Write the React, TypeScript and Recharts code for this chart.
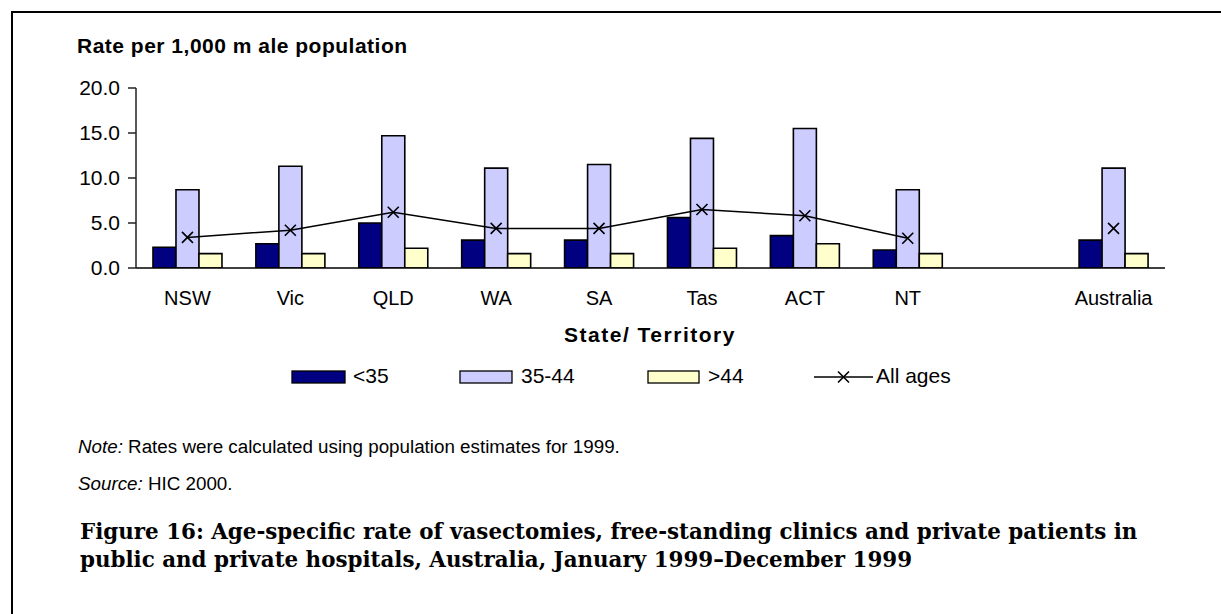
import React from 'react';
import { ComposedChart, Bar, Line, XAxis, YAxis, Legend } from 'recharts';

const categories = ['NSW', 'Vic', 'QLD', 'WA', 'SA', 'Tas', 'ACT', 'NT', '', 'Australia'];
const under35 = [2.3, 2.7, 5.0, 3.1, 3.1, 5.6, 3.6, 2.0, null, 3.1];
const age35to44 = [8.7, 11.3, 14.7, 11.1, 11.5, 14.4, 15.5, 8.7, null, 11.1];
const over44 = [1.6, 1.6, 2.2, 1.6, 1.6, 2.2, 2.7, 1.6, null, 1.6];
const allAges = [3.4, 4.2, 6.2, 4.4, 4.4, 6.5, 5.8, 3.3, null, 4.4];
const yTicks = [0, 5, 10, 15, 20];

const data = categories.map((name, i) => ({
  name,
  u35: under35[i],
  a3544: age35to44[i],
  o44: over44[i],
  all: allAges[i],
}));

const SANS = '"Liberation Sans", Arial, sans-serif';
const SERIF = '"DejaVu Serif", serif';

const XDot = (props: any) => {
  const { cx, cy, value } = props;
  if (value == null || cx == null || cy == null) return <g />;
  const s = 5.5;
  return (
    <path
      d={`M${cx - s},${cy - s}L${cx + s},${cy + s}M${cx - s},${cy + s}L${cx + s},${cy - s}`}
      stroke="#000"
      strokeWidth={1.6}
      fill="none"
    />
  );
};

const LegendContent = () => (
  <svg width={1221} height={30} style={{ display: 'block' }}>
    <rect x={292} y={9} width={53} height={12} fill="#000080" stroke="#000" strokeWidth={1.3} />
    <text x={353} y={21} fontSize={21} fontFamily={SANS} fill="#000">{'<35'}</text>
    <rect x={460} y={9} width={52} height={12} fill="#CCCCFF" stroke="#000" strokeWidth={1.3} />
    <text x={521} y={21} fontSize={21} fontFamily={SANS} fill="#000">35-44</text>
    <rect x={648} y={9} width={51} height={12} fill="#FFFFCC" stroke="#000" strokeWidth={1.3} />
    <text x={708} y={21} fontSize={21} fontFamily={SANS} fill="#000">{'>44'}</text>
    <line x1={814} y1={15} x2={873} y2={15} stroke="#000" strokeWidth={1.5} />
    <path d="M838,9.5L849,20.5M838,20.5L849,9.5" stroke="#000" strokeWidth={1.6} />
    <text x={876} y={21} fontSize={21} fontFamily={SANS} fill="#000">All ages</text>
  </svg>
);

export default function App() {
  return (
    <div style={{ position: 'absolute', left: 0, top: 0, width: 1221, height: 614, background: '#fff', overflow: 'hidden', fontFamily: SANS }}>
      <div style={{ position: 'absolute', left: 11, top: 11, width: 1300, height: 700, borderTop: '2px solid #000', borderLeft: '2px solid #000' }} />
      <div style={{ position: 'absolute', left: 77, top: 33, fontSize: 21, fontWeight: 'bold', letterSpacing: 0.5, whiteSpace: 'pre', lineHeight: '25px' }}>
        Rate per 1,000 m ale population
      </div>
      <div style={{ position: 'absolute', left: 0, top: 0 }}>
        <ComposedChart
          width={1221}
          height={400}
          data={data}
          margin={{ top: 88, right: 56, left: 76, bottom: 52 }}
          barCategoryGap="16.5%"
          barGap={0}
        >
          <XAxis
            dataKey="name"
            tickLine={false}
            axisLine={{ stroke: '#000', strokeWidth: 1.5 }}
            tick={{ fill: '#000', fontSize: 20, fontFamily: SANS }}
            tickMargin={17}
            height={50}
            interval={0}
          />
          <XAxis xAxisId="top" dataKey="name" orientation="top" height={0} tick={false} tickLine={false} axisLine={{ stroke: '#888', strokeWidth: 2 }} />
          <YAxis
            yAxisId="left"
            domain={[0, 20]}
            ticks={yTicks}
            width={60}
            tickSize={8}
            tickMargin={8}
            tickFormatter={(v: number) => v.toFixed(1)}
            tick={{ fill: '#000', fontSize: 21, fontFamily: SANS }}
            axisLine={{ stroke: '#222', strokeWidth: 1.5 }}
            tickLine={{ stroke: '#222', strokeWidth: 1.5 }}
            allowDataOverflow
          />
          <YAxis yAxisId="right" orientation="right" width={0} tick={false} tickLine={false} axisLine={{ stroke: '#888', strokeWidth: 2 }} />
          <Bar yAxisId="left" dataKey="u35" name="<35" fill="#000080" stroke="#000" strokeWidth={1.6} isAnimationActive={false} />
          <Bar yAxisId="left" dataKey="a3544" name="35-44" fill="#CCCCFF" stroke="#000" strokeWidth={1.6} isAnimationActive={false} />
          <Bar yAxisId="left" dataKey="o44" name=">44" fill="#FFFFCC" stroke="#000" strokeWidth={1.6} isAnimationActive={false} />
          <Line
            yAxisId="left"
            dataKey="all"
            name="All ages"
            stroke="#000"
            strokeWidth={1.5}
            dot={<XDot />}
            activeDot={false}
            connectNulls={false}
            isAnimationActive={false}
          />
          <Legend
            content={<LegendContent />}
            wrapperStyle={{ position: 'absolute', top: 362, left: 0, width: 1221, height: 30 }}
          />
        </ComposedChart>
      </div>
      <div style={{ position: 'absolute', left: 0, width: 1300, top: 322, textAlign: 'center', fontSize: 21, fontWeight: 'bold', letterSpacing: 1.5, whiteSpace: 'pre', lineHeight: '25px' }}>
        State/ Territory
      </div>
      <div style={{ position: 'absolute', left: 78, top: 436, fontSize: 18.8, whiteSpace: 'pre', lineHeight: '22px' }}>
        <i>Note:</i> Rates were calculated using population estimates for 1999.
      </div>
      <div style={{ position: 'absolute', left: 78, top: 473, fontSize: 18.8, whiteSpace: 'pre', lineHeight: '22px' }}>
        <i>Source:</i> HIC 2000.
      </div>
      <div style={{ position: 'absolute', left: 80, top: 518, fontSize: 21.4, fontWeight: 'bold', fontFamily: SERIF, lineHeight: '28px', whiteSpace: 'pre' }}>
        {'Figure 16: Age-specific rate of vasectomies, free-standing clinics and private patients in\npublic and private hospitals, Australia, January 1999\u2013December 1999'}
      </div>
    </div>
  );
}
